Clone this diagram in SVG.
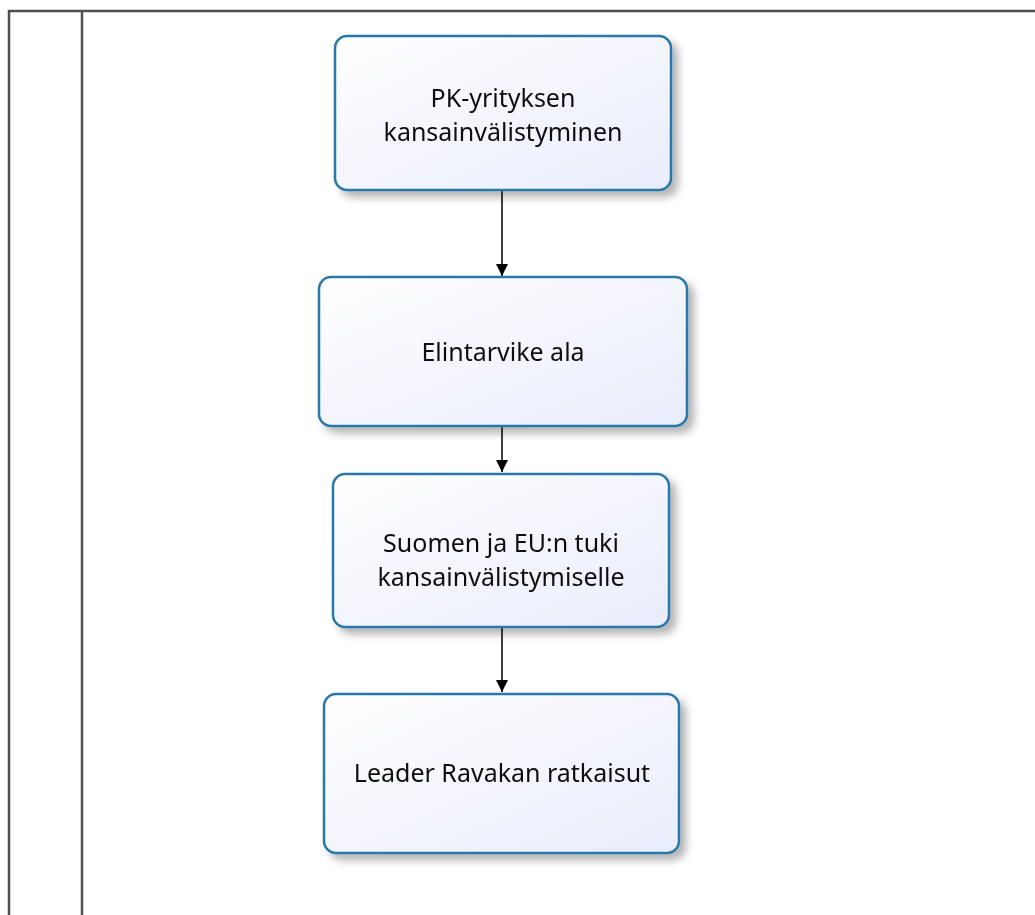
<svg xmlns="http://www.w3.org/2000/svg" width="1035" height="915" viewBox="0 0 1035 915">
<style>
.box{fill:url(#g);stroke:#2b78a8;stroke-width:2.5}
.t{font-family:"Noto Sans","Open Sans",sans-serif;font-size:25px;fill:#111;text-anchor:middle}
.c{stroke:#000;stroke-width:1.5;fill:none;marker-end:url(#ah)}
.frame{stroke:#505050;stroke-width:2.5;fill:none}
</style>
<defs>
<linearGradient id="g" x1="0" y1="0" x2="1" y2="1">
<stop offset="0" stop-color="#ffffff"/>
<stop offset="1" stop-color="#e9ecfb"/>
</linearGradient>
<filter id="sh" x="-10%" y="-10%" width="130%" height="130%">
<feGaussianBlur in="SourceAlpha" stdDeviation="4"/>
<feOffset dx="6" dy="6" result="b"/>
<feComponentTransfer><feFuncA type="linear" slope="0.3"/></feComponentTransfer>
<feMerge><feMergeNode/><feMergeNode in="SourceGraphic"/></feMerge>
</filter>
<marker id="ah" viewBox="0 0 12 12" refX="12" refY="6" markerWidth="12" markerHeight="12" markerUnits="userSpaceOnUse" orient="auto">
<path d="M0,0 L12,6 L0,12 Z" fill="#000"/>
</marker>
</defs>
<rect width="1035" height="915" fill="#fff"/>
<g id="frame">
<path class="frame" d="M9,915 V11 H1035"/>
<path class="frame" d="M82,11 V915"/>
</g>
<g id="connectors">
<line class="c" x1="502" y1="191" x2="502" y2="276"/>
<line class="c" x1="502" y1="427" x2="502" y2="472"/>
<line class="c" x1="502" y1="628" x2="502" y2="692"/>
</g>
<g id="n1" filter="url(#sh)">
<rect class="box" x="335" y="36" width="336" height="154" rx="12"/>
<text class="t" x="503" y="107">PK-yrityksen</text>
<text class="t" x="503" y="141">kansainvälistyminen</text>
</g>
<g id="n2" filter="url(#sh)">
<rect class="box" x="319" y="277" width="368" height="149" rx="12"/>
<text class="t" x="503" y="361">Elintarvike ala</text>
</g>
<g id="n3" filter="url(#sh)">
<rect class="box" x="333" y="474" width="336" height="153" rx="12"/>
<text class="t" x="501" y="552">Suomen ja EU:n tuki</text>
<text class="t" x="501" y="586">kansainvälistymiselle</text>
</g>
<g id="n4" filter="url(#sh)">
<rect class="box" x="324" y="694" width="355" height="159" rx="12"/>
<text class="t" x="502" y="782">Leader Ravakan ratkaisut</text>
</g>
</svg>
